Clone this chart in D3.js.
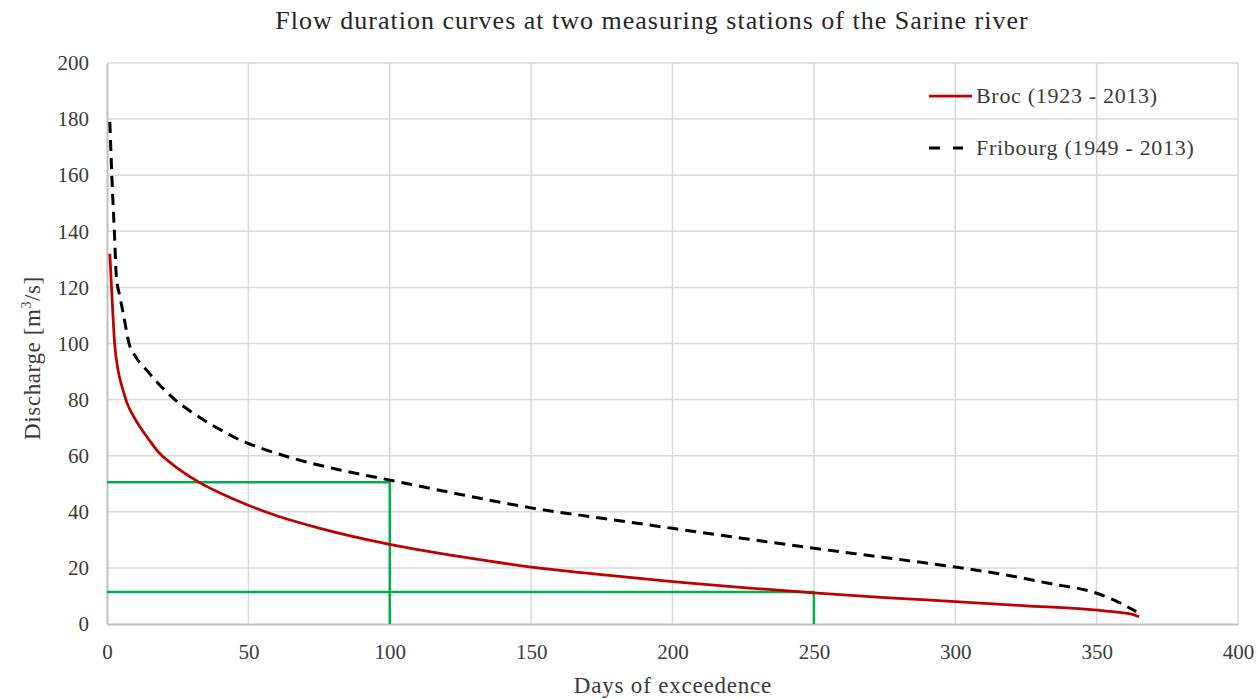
<!DOCTYPE html>
<html>
<head>
<meta charset="utf-8">
<script src="https://cdn.jsdelivr.net/npm/d3@7"></script>
<style>
  body { margin: 0; background: #fff; }
</style>
</head>
<body>
<div id="chart"></div>
<script>
const FONT = "'Liberation Serif', 'Times New Roman', 'DejaVu Serif', serif";

// Broc (1923 - 2013)
const brocDays = [1, 2, 2.7, 4, 5.5, 7, 10, 15, 18, 20, 25, 32.6, 40, 50, 60, 75, 100, 125, 150, 175, 200, 225, 250, 275, 300, 325, 349, 362, 365];
const brocQ    = [132, 112, 100, 90, 84, 79, 73, 65.5, 61.5, 59.5, 55.5, 50.5, 46.7, 42.3, 38.6, 34.2, 28.4, 24.0, 20.3, 17.6, 15.1, 13.0, 11.1, 9.4, 8.0, 6.5, 5.0, 3.6, 2.6];

// Fribourg (1949 - 2013)
const fribDays = [1, 1.7, 2.6, 3.3, 4.5, 5.7, 7.8, 10, 14, 24, 30, 36, 42, 47, 53, 65, 82, 100, 125, 150, 175, 200, 225, 250, 275, 300, 318, 333, 349, 356, 364];
const fribQ    = [179, 160, 140, 124, 117, 111, 100, 95.5, 90.5, 80, 75.5, 71.6, 68.2, 65.6, 63.2, 59.3, 55.0, 51.3, 46.2, 41.4, 37.7, 34.1, 30.5, 27.0, 23.7, 20.3, 17.5, 14.5, 11.3, 8.6, 4.4];

// green reference lines (day, discharge)
const refDays = [100, 250];
const refQ = [50.5, 11.4];

const xTicks = [0, 50, 100, 150, 200, 250, 300, 350, 400];
const yTicks = [0, 20, 40, 60, 80, 100, 120, 140, 160, 180, 200];

const margin = {top: 63, right: 20, bottom: 75, left: 107};
const totalW = 1258, totalH = 699;
const width = 1238 - margin.left;
const height = 624 - margin.top;

const svg = d3.select("#chart").append("svg")
  .attr("width", totalW)
  .attr("height", totalH)
  .style("font-family", FONT);

const g = svg.append("g")
  .attr("transform", `translate(${margin.left}, ${margin.top})`);

const x = d3.scaleLinear().domain([0, 400]).range([0, width]);
const y = d3.scaleLinear().domain([0, 200]).range([height, 0]);

// gridlines
g.append("g").selectAll("line")
  .data(xTicks.slice(1))
  .enter().append("line")
  .attr("x1", d => x(d)).attr("x2", d => x(d))
  .attr("y1", 0).attr("y2", height)
  .attr("stroke", "#d9d9d9").attr("stroke-width", 1.5);

g.append("g").selectAll("line")
  .data(yTicks.slice(1))
  .enter().append("line")
  .attr("x1", 0).attr("x2", width)
  .attr("y1", d => y(d)).attr("y2", d => y(d))
  .attr("stroke", "#d9d9d9").attr("stroke-width", 1.5);

// axes
const xAxis = d3.axisBottom(x).tickValues(xTicks).tickSize(0).tickPadding(20);
const yAxis = d3.axisLeft(y).tickValues(yTicks).tickSize(0).tickPadding(18);

const xAxisG = g.append("g").attr("transform", `translate(0, ${height})`).call(xAxis);
const yAxisG = g.append("g").call(yAxis);
[xAxisG, yAxisG].forEach(a => {
  a.attr("font-family", null).attr("font-size", null);
  a.select(".domain").attr("stroke", "#bfbfbf").attr("stroke-width", 2);
  a.selectAll("text")
    .style("font-family", FONT)
    .style("font-size", "21px")
    .attr("fill", "#3a3a3a");
});

// green reference lines
g.append("g").selectAll("path")
  .data(refDays.map((d, i) => [d, refQ[i]]))
  .enter().append("path")
  .attr("d", d => `M${x(0)},${y(d[1])}H${x(d[0])}V${y(0)}`)
  .attr("fill", "none")
  .attr("stroke", "#00b050")
  .attr("stroke-width", 2.5);

const line = d3.line()
  .x(d => x(d[0]))
  .y(d => y(d[1]))
  .curve(d3.curveMonotoneX);

g.append("path")
  .datum(fribDays.map((d, i) => [d, fribQ[i]]))
  .attr("d", line)
  .attr("fill", "none")
  .attr("stroke", "#000")
  .attr("stroke-width", 3)
  .attr("stroke-dasharray", "11,7");

g.append("path")
  .datum(brocDays.map((d, i) => [d, brocQ[i]]))
  .attr("d", line)
  .attr("fill", "none")
  .attr("stroke", "#c00000")
  .attr("stroke-width", 2.75);

// legend
const legend = svg.append("g");
legend.append("line")
  .attr("x1", 929).attr("x2", 972).attr("y1", 96).attr("y2", 96)
  .attr("stroke", "#c00000").attr("stroke-width", 2.75);
legend.append("text")
  .attr("x", 976).attr("y", 103)
  .style("font-family", FONT)
  .style("font-size", "22px")
  .style("letter-spacing", "0.7px")
  .attr("fill", "#3a3a3a")
  .text("Broc (1923 - 2013)");
legend.append("line")
  .attr("x1", 929).attr("x2", 963).attr("y1", 148).attr("y2", 148)
  .attr("stroke", "#000").attr("stroke-width", 3)
  .attr("stroke-dasharray", "11,13");
legend.append("text")
  .attr("x", 976).attr("y", 155)
  .style("font-family", FONT)
  .style("font-size", "22px")
  .style("letter-spacing", "0.7px")
  .attr("fill", "#3a3a3a")
  .text("Fribourg (1949 - 2013)");

// title
svg.append("text")
  .attr("x", 652).attr("y", 29)
  .attr("text-anchor", "middle")
  .style("font-family", FONT)
  .style("font-size", "26px")
  .style("letter-spacing", "1px")
  .attr("fill", "#262626")
  .text("Flow duration curves at two measuring stations of the Sarine river");

// x axis label
svg.append("text")
  .attr("x", 673).attr("y", 693)
  .attr("text-anchor", "middle")
  .style("font-family", FONT)
  .style("font-size", "23px")
  .style("letter-spacing", "0.8px")
  .attr("fill", "#3a3a3a")
  .text("Days of exceedence");

// y axis label
const yLabel = svg.append("text")
  .attr("transform", `translate(40, 358) rotate(-90)`)
  .attr("text-anchor", "middle")
  .style("font-family", FONT)
  .style("font-size", "23px")
  .style("letter-spacing", "0.6px")
  .attr("fill", "#3a3a3a");
yLabel.append("tspan").text("Discharge [m");
yLabel.append("tspan").attr("dy", -9).style("font-size", "14px").text("3");
yLabel.append("tspan").attr("dy", 9).text("/s]");
</script>
</body>
</html>
